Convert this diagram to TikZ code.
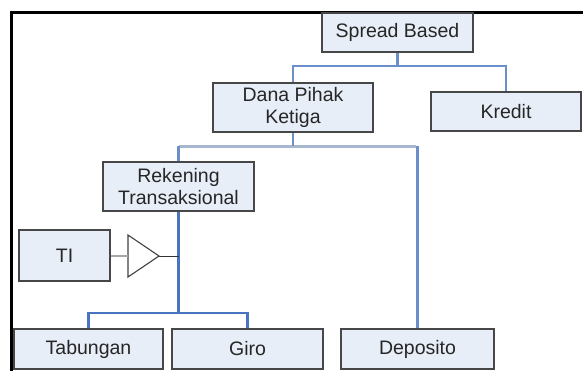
\documentclass[tikz,border=0pt]{standalone}
\usepackage{fontspec}
\setmainfont{Liberation Sans}
\begin{document}
\begin{tikzpicture}[x=1pt,y=-1pt,
  box/.style={draw=black!72, line width=1.4pt, fill=boxfill, inner sep=0pt,
    align=center, font=\fontsize{19.5}{22}\selectfont, text=black!85},
  connA/.style={draw=lineblue, line width=2.4pt},
  connB/.style={draw=barblue, line width=3pt},
  connC/.style={draw=darkblue, line width=2.6pt}]
\definecolor{boxfill}{HTML}{E8EEF8}
\definecolor{lineblue}{HTML}{6A8FC9}
\definecolor{barblue}{HTML}{A8B7CF}
\definecolor{darkblue}{HTML}{4A74C0}
\useasboundingbox (0,0) rectangle (583,370);
% frame
\draw[line width=3pt, black] (11,371) -- (11,12) -- (584,12);
% nodes
\node[box, minimum width=151pt, minimum height=39pt] (sb) at (397.5,32.5) {Spread Based};
\node[box, minimum width=160pt, minimum height=49pt] (dpk) at (293,107.5) {Dana Pihak\\Ketiga};
\node[box, minimum width=150pt, minimum height=39pt] (kr) at (506,111.5) {Kredit};
\node[box, minimum width=151pt, minimum height=49pt] (rt) at (178.5,186.5) {Rekening\\Transaksional};
\node[box, minimum width=91pt, minimum height=51pt] (ti) at (64.5,255.5) {TI};
\node[box, minimum width=149pt, minimum height=40pt] (tab) at (88.5,349) {Tabungan};
\node[box, minimum width=151pt, minimum height=40pt] (giro) at (247.5,349) {Giro};
\node[box, minimum width=153pt, minimum height=40pt] (dep) at (417.5,349) {Deposito};
% triangle
\coordinate (trin) at (128,256);
\coordinate (trout) at (159,256);
\coordinate (junc) at (178.5,256);
\draw[black!75, line width=1.1pt] (128,235) -- (trout) -- (128,277) -- cycle;
% connectors
\draw[connA] (sb.south) -- (sb.south |- 0,66) -| (dpk.north);
\draw[connA] (sb.south |- 0,66) -| (kr.north);
\draw[connB] (178.5,146) -- (416,146);
\draw[connA] (dpk.south) -- (dpk.south |- 0,146);
\draw[connA] (rt.north) -- (rt.north |- 0,146);
\draw[connA] (dep.north) -- (dep.north |- 0,146);
\draw[connC] (rt.south) -- (rt.south |- 0,313) -| (tab.north);
\draw[connC] (rt.south |- 0,313) -| (giro.north);
\draw[black!35, line width=2.4pt] (ti.east |- trin) -- (trin);
\draw[black!80, line width=1pt] (trout) -- (junc);
\end{tikzpicture}
\end{document}
